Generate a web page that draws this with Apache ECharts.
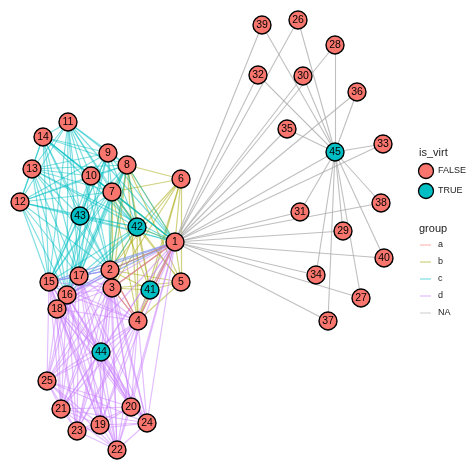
<!DOCTYPE html>
<html>
<head>
<meta charset="utf-8">
<script src="https://cdn.jsdelivr.net/npm/echarts@6/dist/echarts.min.js"></script>
<style>html,body{margin:0;padding:0;background:#fff}#chart{width:474px;height:474px}</style>
</head>
<body>
<div id="chart"></div>
<script>
// node layout, ids and virtual flag
var nodeIds = [1,2,3,4,5,6,7,8,9,10,11,12,13,14,15,16,17,18,19,20,21,22,23,24,25,
  26,27,28,29,30,31,32,33,34,35,36,37,38,39,40,41,42,43,44,45];
var nodeX = [175,110,112,138,181,181,112,127,108,91,68,20,32,43,49,67,79,57,100,131,61,117,77,147,47,
  298,361,335,343,303,300,258,383,316,287,357,328,381,262,384,150,137,80,101,335];
var nodeY = [242,270,288,321,282,179,192,165,153,176,122,202,169,137,282,295,276,309,425,407,409,450,431,423,381,
  20,298,45,231,76,212,75,144,275,129,92,321,203,25,258,290,227,216,352,152];
var virtual = [41,42,43,44,45];

// edge groups: members of each group are linked
var groupA = [1,2,3,4];
var groupB = [1,2,3,4,5,6,7,8,41,42];
var groupC = [2,7,8,9,10,11,12,13,14,15,16,17,42,43,1];
var groupD = [1,2,3,4,15,16,17,18,19,20,21,22,23,24,25,44];
var groupNA = [26,27,28,29,30,31,32,33,34,35,36,37,38,39,40];
var groupColors = {a:"#F8766D", b:"#A3A500", c:"#00BFC4", d:"#C77CFF", NA:"#aaaaaa"};

(function () {
  var myChart = echarts.init(document.getElementById("chart"));
  var links = [];
  const addClique = (members, g) => {
    for (var i = 0; i < members.length; i++)
      for (var j = i + 1; j < members.length; j++)
        links.push({source: String(members[i]), target: String(members[j]),
          lineStyle: {color: groupColors[g], opacity: 0.5, width: 1.2}});
  };
  addClique(groupB, "b");
  addClique(groupC, "c");
  addClique(groupD, "d");
  addClique(groupA, "a");
  groupNA.concat([45]).forEach(function (n) {
    links.push({source: "1", target: String(n), lineStyle: {color: groupColors.NA, opacity: 0.75, width: 1.1}});
  });
  groupNA.forEach(function (n) {
    links.push({source: "45", target: String(n), lineStyle: {color: groupColors.NA, opacity: 0.75, width: 1.1}});
  });

  var nodes = nodeIds.map(function (id, i) {
    var v = virtual.indexOf(id) >= 0;
    return {name: String(id), value: [nodeX[i], nodeY[i]],
      itemStyle: {color: v ? "#00BFC4" : "#F8766D", borderColor: "#000", borderWidth: 1.4}};
  });

  var legendText = {fontFamily: "Liberation Sans", fill: "#222"};
  var lineItem = function (y, g, t) {
    return [
      {type: "line", shape: {x1: 420, y1: y, x2: 431, y2: y}, style: {stroke: groupColors[g], lineWidth: 1, opacity: 0.6}},
      {type: "text", x: 438, y: y - 5, style: Object.assign({text: t, fontSize: 9}, legendText)}
    ];
  };
  var graphics = [
    {type: "text", x: 419, y: 147, style: Object.assign({text: "is_virt", fontSize: 11}, legendText)},
    {type: "circle", shape: {cx: 426, cy: 171, r: 7.5}, style: {fill: "#F8766D", stroke: "#000", lineWidth: 1.3}},
    {type: "text", x: 438, y: 166, style: Object.assign({text: "FALSE", fontSize: 9}, legendText)},
    {type: "circle", shape: {cx: 426, cy: 191, r: 7.5}, style: {fill: "#00BFC4", stroke: "#000", lineWidth: 1.3}},
    {type: "text", x: 438, y: 186, style: Object.assign({text: "TRUE", fontSize: 9}, legendText)},
    {type: "text", x: 419, y: 223, style: Object.assign({text: "group", fontSize: 11}, legendText)}
  ].concat(lineItem(245, "a", "a"), lineItem(262, "b", "b"), lineItem(279, "c", "c"),
           lineItem(296, "d", "d"), lineItem(313, "NA", "NA"));

  var option = {
    animation: false,
    grid: {left: 0, right: 0, top: 0, bottom: 0},
    xAxis: {type: "value", min: 0, max: 474, show: false},
    yAxis: {type: "value", min: 0, max: 474, inverse: true, show: false},
    graphic: graphics,
    series: [{
      type: "graph",
      coordinateSystem: "cartesian2d",
      symbolSize: 18,
      data: nodes,
      links: links,
      label: {show: true, position: "inside", color: "#000", fontSize: 10.5, fontFamily: "Liberation Sans"},
      emphasis: {disabled: true}
    }]
  };
  myChart.setOption(option);
  window.addEventListener("resize", function () {
    myChart.resize();
  });
})();
</script>
</body>
</html>
